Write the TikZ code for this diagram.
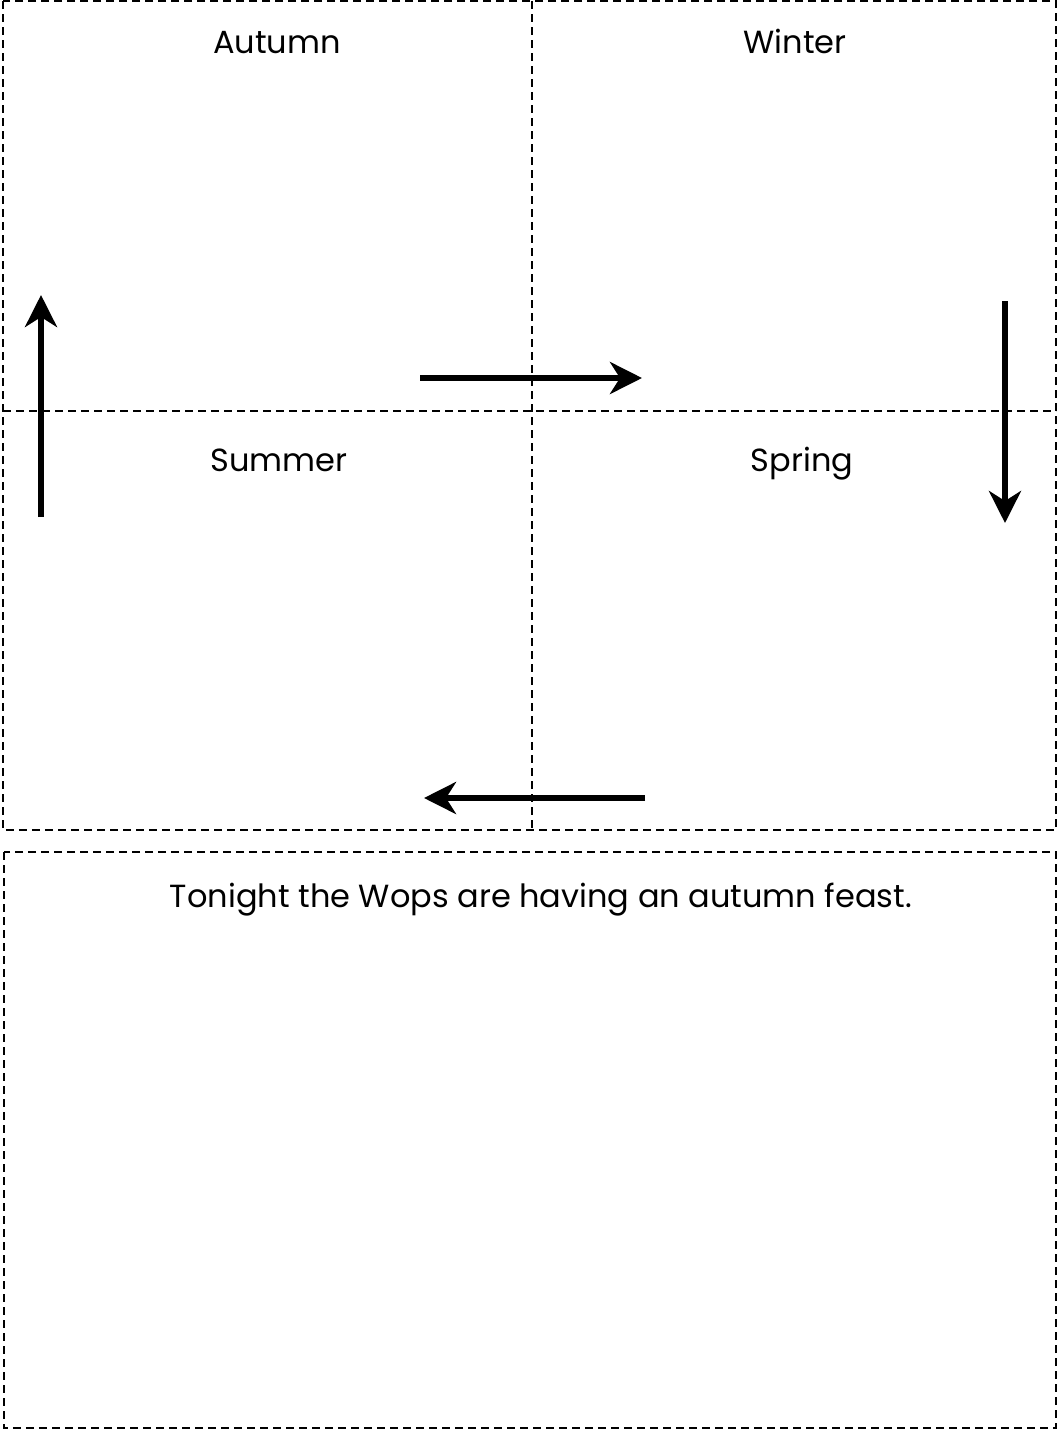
\documentclass[tikz,border=0pt]{standalone}
\usepackage{fontspec}
\setmainfont{Poppins}
\usetikzlibrary{arrows.meta}
\begin{document}
\begin{tikzpicture}[x=1pt,y=-1pt,
  cut/.style={line width=1.3pt,dash pattern=on 8pt off 5pt},
  flow/.style={line width=5.5pt,-{Stealth[length=32pt,width=32pt,inset=10pt]}},
  lbl/.style={font=\fontsize{32}{36}\selectfont,inner sep=0pt,anchor=base}]
\useasboundingbox (0,0) rectangle (1058,1430);
\draw[cut] (3,1) rectangle (1056,830);
\draw[cut] (532,1) -- (532,830);
\draw[cut] (3,411) -- (1056,411);
\draw[cut] (4,852) rectangle (1056,1428);
\node[lbl] (autumn) at (277,53) {Autumn};
\node[lbl] (winter) at (795,53) {Winter};
\node[lbl] (summer) at (279,471) {Summer};
\node[lbl] (spring) at (802,471) {Spring};
\node[lbl] (feast) at (541,907) {Tonight the Wops are having an autumn feast.};
\coordinate (a1) at (41,517); \coordinate (a2) at (41,295);
\coordinate (b1) at (420,378); \coordinate (b2) at (642,378);
\coordinate (c1) at (1005,301); \coordinate (c2) at (1005,523);
\coordinate (d1) at (645,798); \coordinate (d2) at (424,798);
\draw[flow] (a1) -- (a2);
\draw[flow] (b1) -- (b2);
\draw[flow] (c1) -- (c2);
\draw[flow] (d1) -- (d2);
\end{tikzpicture}
\end{document}
